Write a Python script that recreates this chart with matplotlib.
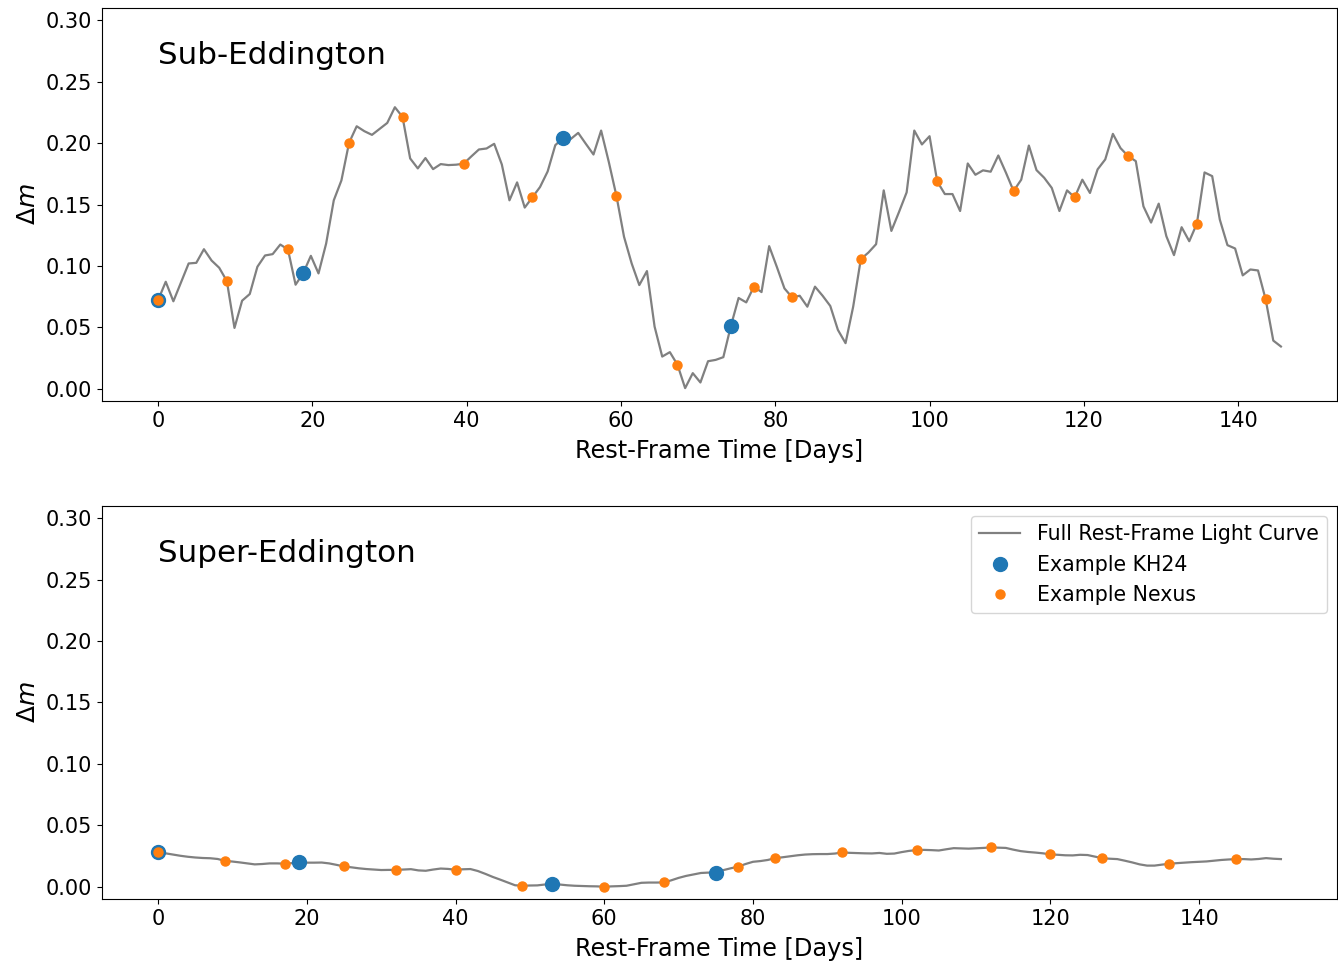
import matplotlib
matplotlib.use("Agg")
import matplotlib.pyplot as plt
import numpy as np

# sub-Eddington light curve, rest-frame cadence ~0.99 day
SUB_CADENCE = 0.99
sub_dm = [
    0.0722, 0.0871, 0.0712, 0.0866, 0.1020, 0.1025, 0.1136, 0.1044, 0.0985, 0.0877,
    0.0495, 0.0717, 0.0771, 0.0993, 0.1085, 0.1096, 0.1174, 0.1134, 0.0847, 0.0942,
    0.1082, 0.0939, 0.1182, 0.1534, 0.1696, 0.2002, 0.2137, 0.2097, 0.2067, 0.2116,
    0.2164, 0.2292, 0.2213, 0.1875, 0.1794, 0.1878, 0.1788, 0.1829, 0.1821, 0.1824,
    0.1832, 0.1891, 0.1948, 0.1956, 0.1994, 0.1826, 0.1534, 0.1680, 0.1475, 0.1558,
    0.1642, 0.1769, 0.1983, 0.2040, 0.2032, 0.2083, 0.1994, 0.1907, 0.2102, 0.1848,
    0.1572, 0.1237, 0.1020, 0.0844, 0.0958, 0.0506, 0.0262, 0.0298, 0.0195, 0.0005,
    0.0127, 0.0051, 0.0224, 0.0235, 0.0257, 0.0514, 0.0739, 0.0703, 0.0831, 0.0787,
    0.1161, 0.0993, 0.0817, 0.0744, 0.0757, 0.0668, 0.0831, 0.0757, 0.0674, 0.0479,
    0.0371, 0.0668, 0.1055, 0.1109, 0.1177, 0.1615, 0.1285, 0.1439, 0.1599, 0.2102,
    0.1989, 0.2056, 0.1688, 0.1585, 0.1585, 0.1447, 0.1834, 0.1742, 0.1778, 0.1767,
    0.1899, 0.1759, 0.1610, 0.1702, 0.1980, 0.1780, 0.1718, 0.1635, 0.1447, 0.1615,
    0.1558, 0.1702, 0.1594, 0.1786, 0.1867, 0.2075, 0.1959, 0.1894, 0.1853, 0.1485,
    0.1353, 0.1507, 0.1242, 0.1088, 0.1315, 0.1201, 0.1345, 0.1761, 0.1731, 0.1377,
    0.1169, 0.1142, 0.0923, 0.0971, 0.0963, 0.0728, 0.0392, 0.0344,
]

# super-Eddington light curve, daily cadence
SUPER_CADENCE = 1.0
super_dm = [
    0.0285, 0.0272, 0.0262, 0.0252, 0.0244, 0.0238, 0.0234, 0.0232, 0.0226, 0.0211,
    0.0205, 0.0198, 0.0190, 0.0182, 0.0185, 0.0190, 0.0190, 0.0188, 0.0192, 0.0198,
    0.0196, 0.0196, 0.0197, 0.0190, 0.0178, 0.0165, 0.0158, 0.0150, 0.0144, 0.0140,
    0.0136, 0.0137, 0.0137, 0.0140, 0.0143, 0.0133, 0.0130, 0.0140, 0.0148, 0.0145,
    0.0138, 0.0142, 0.0144, 0.0128, 0.0105, 0.0080, 0.0058, 0.0035, 0.0012, 0.0008,
    0.0010, 0.0011, 0.0018, 0.0022, 0.0018, 0.0012, 0.0008, 0.0006, 0.0004, 0.0003,
    0.0000, 0.0003, 0.0005, 0.0008, 0.0020, 0.0032, 0.0034, 0.0034, 0.0035, 0.0052,
    0.0072, 0.0088, 0.0100, 0.0112, 0.0115, 0.0111, 0.0135, 0.0150, 0.0163, 0.0185,
    0.0203, 0.0209, 0.0218, 0.0233, 0.0240, 0.0248, 0.0256, 0.0262, 0.0265, 0.0266,
    0.0266, 0.0270, 0.0279, 0.0276, 0.0274, 0.0272, 0.0271, 0.0275, 0.0268, 0.0270,
    0.0282, 0.0292, 0.0298, 0.0300, 0.0298, 0.0295, 0.0305, 0.0314, 0.0312, 0.0310,
    0.0313, 0.0316, 0.0320, 0.0318, 0.0316, 0.0302, 0.0290, 0.0283, 0.0278, 0.0272,
    0.0263, 0.0260, 0.0256, 0.0255, 0.0260, 0.0258, 0.0245, 0.0232, 0.0228, 0.0225,
    0.0212, 0.0198, 0.0182, 0.0172, 0.0172, 0.0180, 0.0187, 0.0192, 0.0196, 0.0200,
    0.0203, 0.0206, 0.0212, 0.0218, 0.0222, 0.0225, 0.0225, 0.0222, 0.0226, 0.0233,
    0.0228, 0.0225,
]

# sampling epochs (indices into the light curves)
kh24_idx = [0, 19, 53, 75]
nexus_idx = [0, 9, 17, 25, 32, 40, 49, 60, 68, 78, 83, 92, 102, 112, 120, 127, 136, 145]

panels = [
    ("Sub-Eddington", SUB_CADENCE, sub_dm),
    ("Super-Eddington", SUPER_CADENCE, super_dm),
]

fig, axes = plt.subplots(2, 1, figsize=(13.38, 9.61), dpi=100)
fig.subplots_adjust(left=0.0762, right=0.9993, top=0.9917, bottom=0.0645, hspace=0.267)

for ax, (label, cadence, dm) in zip(axes, panels):
    dm = np.array(dm)
    t = np.arange(len(dm)) * cadence
    ax.plot(t, dm, color="gray", lw=1.6, label="Full Rest-Frame Light Curve")
    ax.plot(t[kh24_idx], dm[kh24_idx], "o", ms=10, color="C0", ls="", label="Example KH24")
    ax.plot(t[nexus_idx], dm[nexus_idx], "o", ms=6.5, color="C1", ls="", label="Example Nexus")
    ax.set_ylim(-0.01, 0.31)
    ax.set_xlabel("Rest-Frame Time [Days]", fontsize=17.3, labelpad=6)
    ax.set_ylabel(r"$\Delta m$", fontsize=18)
    ax.tick_params(labelsize=15)
    ax.text(0, 0.271, label, fontsize=22.3, va="center", ha="left")

axes[1].legend(loc="upper right", fontsize=14.8)

fig.savefig("out.png", dpi=100)
